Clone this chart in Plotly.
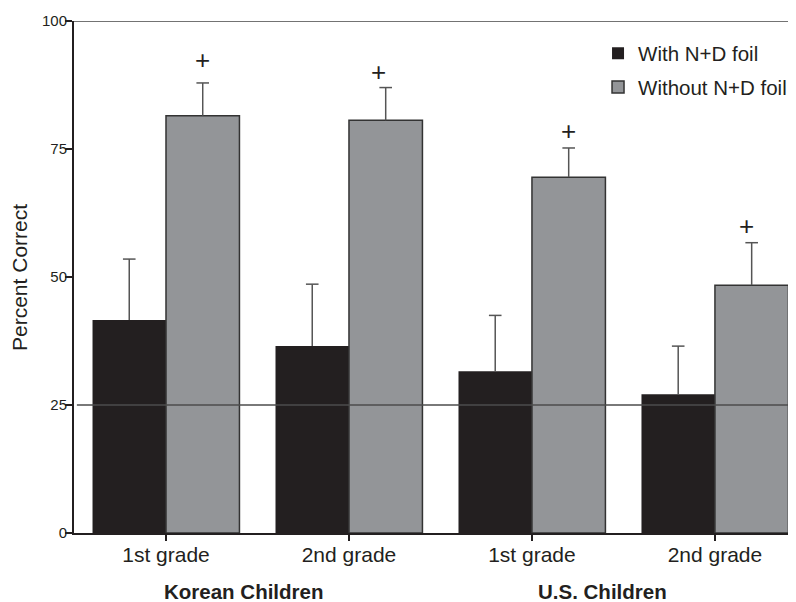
import plotly.graph_objects as go

# ---- data ----
positions = [0, 1, 2, 3]
grade_labels = ["1st grade", "2nd grade", "1st grade", "2nd grade"]
group_labels = ["Korean Children", "U.S. Children"]
group_label_x = [0.423, 2.383]
series_names = ["With N+D foil", "Without N+D foil"]
with_foil = [41.6, 36.5, 31.6, 27.1]
with_foil_err = [11.9, 12.1, 10.9, 9.4]
without_foil = [81.5, 80.6, 69.5, 48.4]
without_foil_err = [6.4, 6.4, 5.7, 8.3]
plus_y = [92.3, 90.1, 78.5, 60.0]
plus_x_offset = [0.2, 0.16, 0.2, 0.17]
chance_level = 25
y_ticks = [0, 25, 50, 75, 100]

FONT = "Liberation Sans, Arial, sans-serif"
INK = "#231f20"
ERR = "#555555"
BARGAP = 0.197
half = (1 - BARGAP) / 4  # offset from category centre to each bar centre

fig = go.Figure()
fig.add_trace(go.Bar(
    x=positions, y=with_foil, name=series_names[0], legendgroup="a",
    marker=dict(color=INK, line=dict(width=0)),
))
fig.add_trace(go.Bar(
    x=positions, y=without_foil, name=series_names[1], legendgroup="b",
    marker=dict(color="#939598", line=dict(width=1.5, color="#333333")),
))


def err_traces(vals, errs, off):
    xs, ys = [], []
    for p, v, e in zip(positions, vals, errs):
        xs += [p + off, p + off, None]
        ys += [v, v + e, None]
    fig.add_trace(go.Scatter(x=xs, y=ys, mode="lines", showlegend=False,
                             line=dict(color=ERR, width=1.5), hoverinfo="skip"))
    fig.add_trace(go.Scatter(x=[p + off for p in positions],
                             y=[v + e for v, e in zip(vals, errs)],
                             mode="markers", showlegend=False, hoverinfo="skip",
                             marker=dict(symbol="line-ew", size=9,
                                         line=dict(color=ERR, width=1.5))))


err_traces(with_foil, with_foil_err, -half)
err_traces(without_foil, without_foil_err, half)

# chance line and top border
fig.add_shape(type="line", xref="paper", x0=0.004, x1=1, yref="y",
              y0=chance_level, y1=chance_level,
              line=dict(color="#4d4d4d", width=1.3), layer="above")
fig.add_shape(type="line", xref="paper", x0=0, x1=1, yref="y",
              y0=100, y1=100, line=dict(color="#444444", width=1.5), layer="above")

annotations = []
for p, off, yy in zip(positions, plus_x_offset, plus_y):
    annotations.append(dict(x=p + off, y=yy, xref="x", yref="y", text="+",
                            showarrow=False, font=dict(family=FONT, size=26, color=INK),
                            xanchor="center", yanchor="middle"))
for gx, gl in zip(group_label_x, group_labels):
    annotations.append(dict(x=gx, y=-0.115, xref="x", yref="paper", text="<b>%s</b>" % gl,
                            showarrow=False, font=dict(family=FONT, size=20.5, color=INK),
                            xanchor="center", yanchor="middle"))
annotations.append(dict(x=-0.0762, y=0.5, xref="paper", yref="paper", text="Percent Correct",
                        textangle=-90, showarrow=False,
                        font=dict(family=FONT, size=21, color=INK),
                        xanchor="center", yanchor="middle"))

fig.update_layout(
    width=788, height=594,
    margin=dict(l=66, r=0, t=12.5, b=69),
    paper_bgcolor="white", plot_bgcolor="white",
    barmode="group", bargap=BARGAP, bargroupgap=0,
    font=dict(family=FONT, color=INK),
    showlegend=True,
    legend=dict(x=0.7258, xanchor="left", y=0.9756, yanchor="top",
                font=dict(family=FONT, size=20.5, color=INK),
                bgcolor="rgba(0,0,0,0)", tracegroupgap=4, traceorder="grouped"),
    annotations=annotations,
    xaxis=dict(range=[-0.5027, 3.443], tickvals=positions, ticktext=grade_labels,
               showline=True, linecolor=INK, linewidth=2, ticks="outside",
               ticklen=6, tickwidth=1.5, tickcolor=INK, showgrid=False, zeroline=False,
               ticklabelstandoff=-4,
               tickfont=dict(family=FONT, size=21, color=INK), fixedrange=True),
    yaxis=dict(range=[0, 100], tickvals=y_ticks, showline=True, linecolor=INK,
               linewidth=2, ticks="outside", ticklen=7, tickwidth=1.5, tickcolor=INK,
               showgrid=False, zeroline=False, ticklabelstandoff=-5,
               tickfont=dict(family=FONT, size=15, color=INK), fixedrange=True),
)

fig.write_html("out.html")
